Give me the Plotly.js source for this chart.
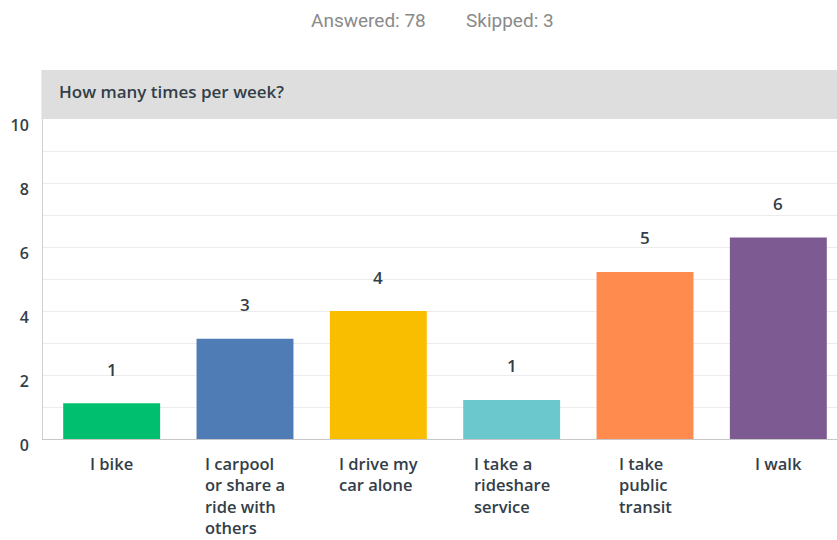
<!DOCTYPE html>
<html>
<head>
<meta charset="utf-8">
<script src="https://cdn.plot.ly/plotly-3.0.1.min.js"></script>
<style>html,body{margin:0;padding:0;background:#fff;}#chart{width:837px;height:540px;}</style>
</head>
<body>
<div id="chart"></div>
<script>
const categories = ["I bike", "I carpool or share a ride with others", "I drive my car alone", "I take a rideshare service", "I take public transit", "I walk"];
const tickTexts = ["I bike", "I carpool<br>or share a<br>ride with<br>others", "I drive my<br>car alone", "I take a<br>rideshare<br>service", "I take<br>public<br>transit", "I walk"];
const values = [1.12, 3.13, 4.0, 1.22, 5.22, 6.3];
const valueLabels = ["1", "3", "4", "1", "5", "6"];
const barColors = ["#00bf6f", "#507cb6", "#f9be00", "#6bc8cd", "#ff8b4f", "#7d5a91"];
const yTicks = [0, 2, 4, 6, 8, 10];
const headerText = "How many times per week?";
const answeredText = "Answered: 78";
const skippedText = "Skipped: 3";

const dark = "#333e48";
const baseFont = {family: "Open Sans, sans-serif", size: 17, color: dark, weight: 600};
const labelFont = {family: "Open Sans, sans-serif", size: 16.5, color: dark, weight: 600};

const L = 43, R = 0, T = 119, B = 101, W = 837, H = 540;
const pw = W - L - R, ph = H - T - B;

const annotations = [];
categories.forEach((c, i) => {
  annotations.push({
    x: c, y: values[i], xref: "x", yref: "y", text: valueLabels[i],
    showarrow: false, yshift: 34, font: baseFont
  });
  annotations.push({
    x: c, y: 0, xref: "x", yref: "paper", text: tickTexts[i],
    showarrow: false, align: "left", xanchor: "center", yanchor: "top",
    yshift: -12, borderpad: 0, font: labelFont
  });
});
annotations.push({
  x: 0.018, y: 1 + (439 - 92 - ph) / ph, xref: "paper", yref: "paper", text: headerText,
  showarrow: false, xanchor: "left", yanchor: "middle",
  font: {family: "Open Sans, sans-serif", size: 17, color: dark, weight: 600}
});
annotations.push({
  x: (368 - L) / pw, y: (H - B - 20) / ph, xref: "paper", yref: "paper", text: answeredText,
  showarrow: false, xanchor: "center", yanchor: "middle",
  font: {family: "Roboto, sans-serif", size: 19, color: "#8a8a8a"}
});
annotations.push({
  x: (510 - L) / pw, y: (H - B - 20) / ph, xref: "paper", yref: "paper", text: skippedText,
  showarrow: false, xanchor: "center", yanchor: "middle",
  font: {family: "Roboto, sans-serif", size: 19, color: "#8a8a8a"}
});

const data = [{
  type: "bar",
  x: categories,
  y: values,
  marker: {color: barColors},
  hoverinfo: "none"
}];

const layout = {
  width: W, height: H,
  margin: {l: L, r: R, t: T, b: B, pad: 0},
  paper_bgcolor: "#fff", plot_bgcolor: "#fff",
  bargap: 0.273,
  showlegend: false,
  xaxis: {
    type: "category", range: [-0.515, 5.44], showticklabels: false,
    showgrid: false, zeroline: false, showline: true, linecolor: "#c8c8c8", linewidth: 1, fixedrange: true
  },
  yaxis: {
    range: [0, 10], tickvals: yTicks, ticktext: yTicks.map(String),
    showgrid: true, gridcolor: "#ececec", gridwidth: 1,
    minor: {dtick: 1, showgrid: true, gridcolor: "#ececec", gridwidth: 1},
    zeroline: false, showline: true, linecolor: "#d0d0d0", linewidth: 1,
    ticks: "", ticklabelstandoff: 10, ticklabelshift: 6,
    tickfont: {family: "Open Sans, sans-serif", size: 16, color: dark, weight: 600}
  },
  shapes: [{
    type: "rect", xref: "paper", yref: "paper", x0: -0.002, x1: 1.01, y0: 1.0, y1: 1 + (119 - 70) / ph,
    fillcolor: "#dedede", line: {width: 0}, layer: "above"
  }],
  annotations: annotations
};

Plotly.newPlot("chart", data, layout, {displayModeBar: false, staticPlot: true});
</script>
</body>
</html>
